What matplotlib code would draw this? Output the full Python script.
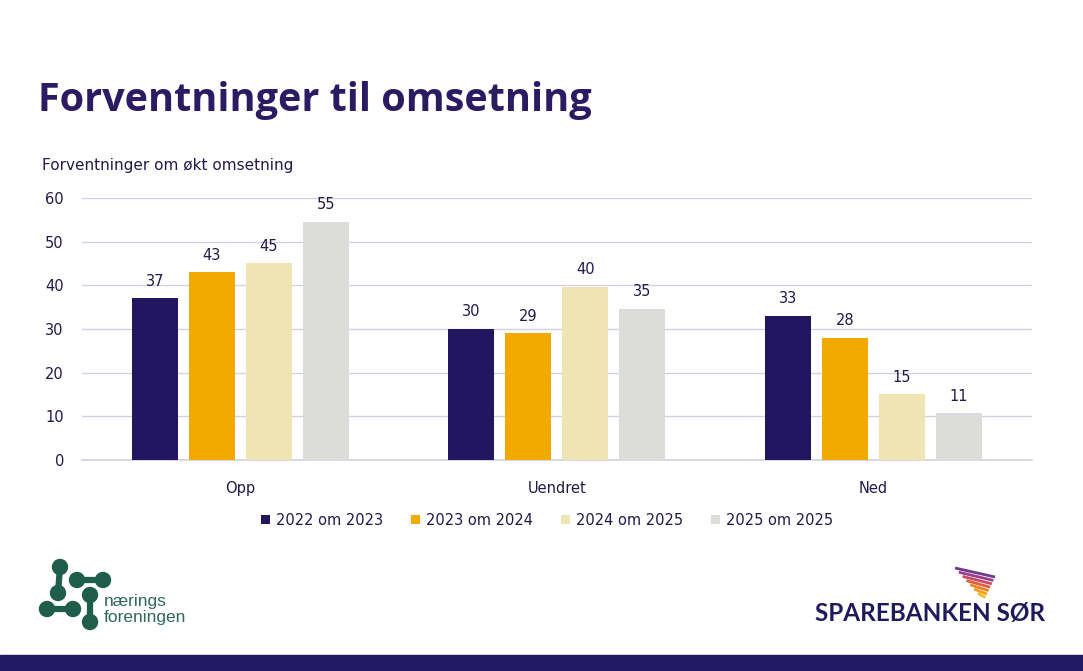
import matplotlib.pyplot as plt
import matplotlib.patches as mpatches
import numpy as np

kategorier = ['Opp', 'Uendret', 'Ned']
serier = ['2022 om 2023', '2023 om 2024', '2024 om 2025', '2025 om 2025']
v_2022 = [37, 30, 33]
v_2023 = [43, 29, 28]
v_2024 = [45, 39.7, 15]
v_2025 = [54.6, 34.6, 10.7]
verdier = [v_2022, v_2023, v_2024, v_2025]
farger = ['#221660', '#F2AA00', '#EFE4B4', '#DCDCD8']

tekst = '#1E1A4D'

fig = plt.figure(figsize=(10.83, 6.71), dpi=100)
fig.patch.set_facecolor('white')

# tittel
fig.text(0.035, 0.85, 'Forventninger til omsetning', fontsize=28.5, fontweight='bold',
         color='#2A1B63', family='Open Sans', va='center')
fig.text(0.039, 0.754, 'Forventninger om økt omsetning', fontsize=11, color=tekst, va='center')

ax = fig.add_axes([0.0757, 0.3145, 0.877, 0.3905])
x = np.arange(len(kategorier))
bredde = 0.145
steg = 0.18
for i, (navn, v) in enumerate(zip(serier, verdier)):
    pos = x + (i - 1.5) * steg
    ax.bar(pos, v, width=bredde, color=farger[i], label=navn, zorder=3)
    for px, val in zip(pos, v):
        ax.text(px, val + 2.2, f'{val:.0f}', ha='center', va='bottom', fontsize=10.5, color=tekst)

ax.set_xlim(-0.5, 2.5)
ax.set_ylim(0, 60)
ax.set_yticks(range(0, 61, 10))
ax.set_xticks(x)
ax.set_xticklabels(kategorier)
ax.grid(axis='y', color='#D3D0E2', linewidth=1, zorder=0)
ax.axhline(0, color='#D3D0E2', linewidth=1.2, zorder=1, clip_on=False)
for s in ax.spines.values():
    s.set_visible(False)
ax.tick_params(length=0, labelsize=10.5, colors=tekst)
ax.tick_params(axis='x', pad=15)
ax.tick_params(axis='y', pad=13)

leg = fig.legend(loc='center', bbox_to_anchor=(0.505, 0.225), ncol=4, frameon=False,
                 fontsize=10.5, handlelength=0.65, handleheight=0.65, handletextpad=0.4,
                 columnspacing=1.9, labelcolor=tekst)

# bunnstripe
fig.patches.append(mpatches.Rectangle((0, 0), 1, 0.024, transform=fig.transFigure,
                                      color='#231864', zorder=5))

# logo naeringsforeningen (forenklet)
gronn = '#1E5E4B'
pxl = lambda a, b: (a / 1083, 1 - b / 671)
par = [((60, 567), (58, 593)), ((77, 580), (103, 580)), ((90, 595), (90, 622)), ((47, 609), (73, 609))]
for a, b in par:
    for p in (a, b):
        fig.patches.append(mpatches.Ellipse(pxl(*p), 15 / 1083, 15 / 671, transform=fig.transFigure,
                                            color=gronn))
    fig.add_artist(plt.Line2D([pxl(*a)[0], pxl(*b)[0]], [pxl(*a)[1], pxl(*b)[1]],
                              transform=fig.transFigure, color=gronn, linewidth=4.5))
fig.text(pxl(104, 606)[0], pxl(104, 606)[1], 'nærings', fontsize=12.5, color='#2F6A58',
         va='baseline', family='Liberation Sans')
fig.text(pxl(104, 622)[0], pxl(104, 622)[1], 'foreningen', fontsize=12.5, color='#2F6A58',
         va='baseline', family='Liberation Sans')

# logo sparebanken sor (forenklet)
fig.text(pxl(815, 614)[0], pxl(815, 614)[1], 'SPAREBANKEN SØR', fontsize=17.5, color='#1F1A5C',
         va='center', family='Lato', fontweight='bold')
striper = ['#6E3A8E', '#9A3F8A', '#C84A6A', '#E2603A', '#EE8228', '#F3A020', '#F6BC1C']
for k, c in enumerate(striper):
    x0, y0 = 955 + k * 3.8, 568 + k * 4.2
    x1, y1 = 995 - k * 1.6, 577 + k * 3.4
    fig.add_artist(plt.Line2D([pxl(x0, y0)[0], pxl(x1, y1)[0]], [pxl(x0, y0)[1], pxl(x1, y1)[1]],
                              transform=fig.transFigure, color=c, linewidth=2.0,
                              solid_capstyle='butt'))

fig.savefig('out.png', dpi=100)
